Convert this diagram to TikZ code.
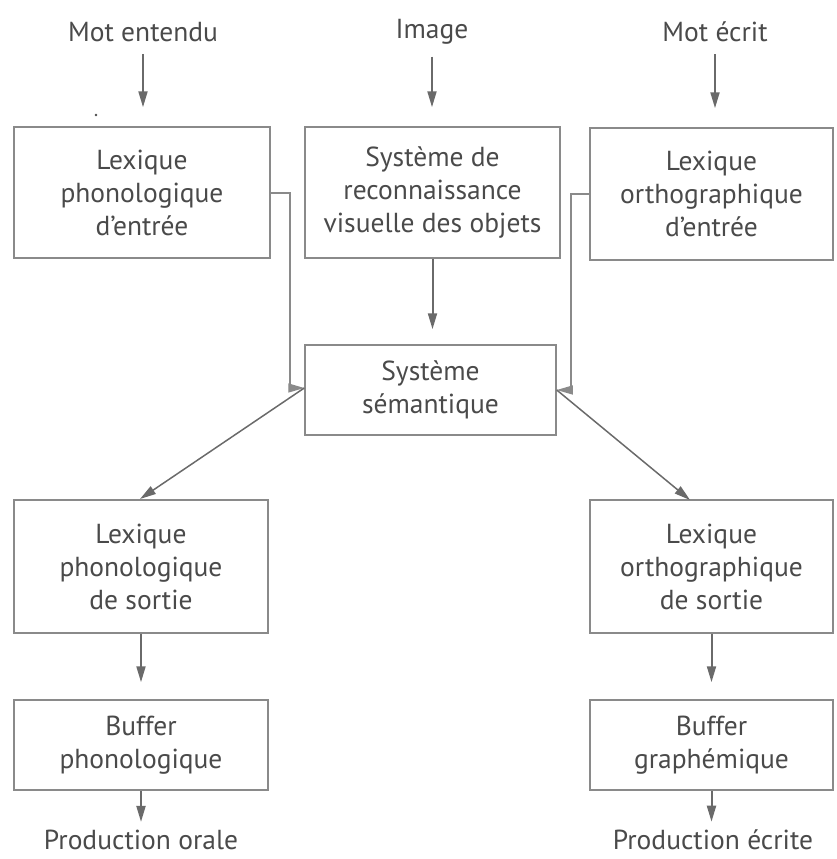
\documentclass[tikz,border=0pt]{standalone}
\usepackage{fontspec}
\setmainfont{PT Sans}
\usetikzlibrary{arrows.meta,calc}
\definecolor{txt}{HTML}{4A4A4A}
\definecolor{ln}{HTML}{8A8A8A}
\definecolor{arr}{HTML}{6A6A6A}
\begin{document}
\begin{tikzpicture}[x=1pt,y=-1pt,
  lab/.style={text=txt,font=\fontsize{27.5}{33}\selectfont,align=center,inner sep=0pt},
  box/.style={draw=ln,line width=1.5pt,text=txt,font=\fontsize{27.5}{33}\selectfont,align=center,inner sep=0pt},
  tip/.style={-{Triangle[width=9pt,length=16pt]}},
  varr/.style={draw=arr,line width=2pt,tip},
  darr/.style={draw=arr,line width=1.5pt,tip},
  conn/.style={draw=ln,line width=1.2pt}]
\useasboundingbox (0,0) rectangle (836,859);
% top labels
\node[lab] (t1) at (143,32) {Mot entendu};
\node[lab] (t2) at (432,32) {Image};
\node[lab] (t3) at (715,32) {Mot écrit};
% boxes
\node[box,minimum width=256pt,minimum height=131pt] (A) at (142,192.5) {Lexique\\phonologique\\d’entrée};
\node[box,minimum width=255pt,minimum height=131pt] (B) at (432.5,192.5) {Système de\\reconnaissance\\visuelle des objets};
\node[box,minimum width=243pt,minimum height=132pt] (C) at (711.5,194) {Lexique\\orthographique\\d’entrée};
\node[box,minimum width=251pt,minimum height=90pt] (S) at (430.5,390) {Système\\sémantique};
\node[box,minimum width=254pt,minimum height=133pt] (D) at (141,566.5) {Lexique\\phonologique\\de sortie};
\node[box,minimum width=243pt,minimum height=133pt] (E) at (711.5,566.5) {Lexique\\orthographique\\de sortie};
\node[box,minimum width=254pt,minimum height=90pt] (F) at (141,745) {Buffer\\phonologique};
\node[box,minimum width=243pt,minimum height=90pt] (G) at (711.5,745) {Buffer\\graphémique};
% bottom labels
\node[lab] (p1) at (141,840) {Production orale};
\node[lab] (p2) at (713,840) {Production écrite};
% stray dot
\fill[txt] (96,115) circle (1.3pt);
% vertical arrows
\draw[varr,shorten <=12pt,shorten >=19pt] (t1.south) -- (t1.south |- A.north);
\draw[varr,shorten <=12pt,shorten >=19pt] (t2.south) -- (t2.south |- B.north);
\draw[varr,shorten <=12pt,shorten >=19pt] (t3.south) -- (t3.south |- C.north);
\draw[varr,shorten >=15pt] (B.south) -- (B.south |- S.north);
\draw[varr,shorten >=17pt] (D.south) -- (D.south |- F.north);
\draw[varr,shorten >=17pt] (E.south) -- (E.south |- G.north);
\draw[varr,shorten >=8pt] (F.south) -- (F.south |- p1.north);
\draw[varr,shorten >=8pt] (G.south) -- (G.south |- p2.north);
% elbow connectors
\coordinate (sw) at ($(S.west)+(0,-2)$);
\coordinate (se) at ($(S.east)+(0,0)$);
\draw[conn,tip] ($(A.east)+(0,0.5)$) -- (290,193) -- (290,388) -- (sw);
\draw[conn,tip] (C.west) -- (571,194) -- (571,390) -- (se);
% diagonals
\coordinate (dtip) at (140,499);
\coordinate (etip) at (690,500);
\draw[darr] (sw) -- (dtip);
\draw[darr] (se) -- (etip);
\end{tikzpicture}
\end{document}
